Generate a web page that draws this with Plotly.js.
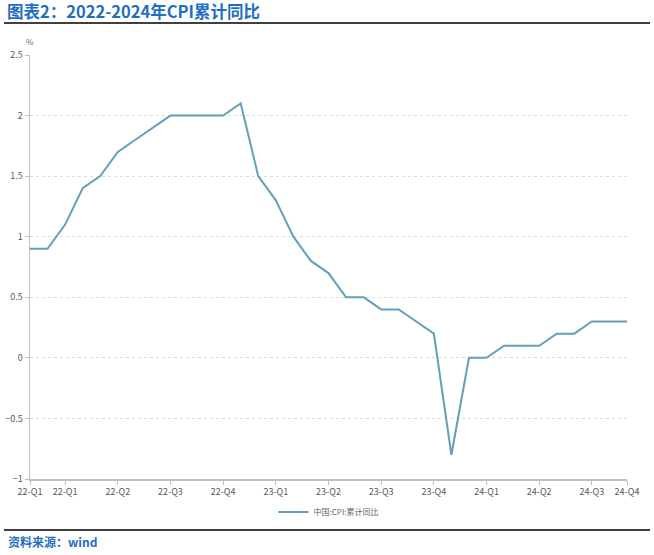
<!DOCTYPE html>
<html>
<head>
<meta charset="utf-8">
<script src="https://cdn.plot.ly/plotly-3.0.1.min.js"></script>
<style>html,body{margin:0;padding:0;background:#fff;}#chart{width:654px;height:555px;}</style>
</head>
<body>
<div id="chart"></div>
<script>
const months = [
  '2022-01','2022-02','2022-03','2022-04','2022-05','2022-06','2022-07','2022-08','2022-09','2022-10','2022-11','2022-12',
  '2023-01','2023-02','2023-03','2023-04','2023-05','2023-06','2023-07','2023-08','2023-09','2023-10','2023-11','2023-12',
  '2024-01','2024-02','2024-03','2024-04','2024-05','2024-06','2024-07','2024-08','2024-09','2024-10','2024-11'
];
const cpiCumulative = [
  0.9,0.9,1.1,1.4,1.5,1.7,1.8,1.9,2.0,2.0,2.0,2.0,
  2.1,1.5,1.3,1.0,0.8,0.7,0.5,0.5,0.4,0.4,0.3,0.2,
  -0.8,0.0,0.0,0.1,0.1,0.1,0.2,0.2,0.3,0.3,0.3
];
const tickMonths = ['2022-01','2022-03','2022-06','2022-09','2022-12','2023-03','2023-06','2023-09','2023-12','2024-03','2024-06','2024-09','2024-11'];
const tickLabels = ['22-Q1','22-Q1','22-Q2','22-Q3','22-Q4','23-Q1','23-Q2','23-Q3','23-Q4','24-Q1','24-Q2','24-Q3','24-Q4'];
const yTicks = [-1,-0.5,0,0.5,1,1.5,2,2.5];
const seriesName = '中国:CPI:累计同比';

const W = 654, H = 555, L = 30, R = 27, T = 55, B = 76;
const pw = W - L - R, ph = H - T - B;
const px = x => (x - L) / pw;
const py = y => (H - B - y) / ph;

const font = 'Microsoft YaHei, "Noto Sans CJK SC", "Open Sans", sans-serif';

const trace = {
  x: months, y: cpiCumulative, type: 'scatter', mode: 'lines', name: seriesName,
  line: {color: '#649fb8', width: 2}
};

const layout = {
  width: W, height: H,
  margin: {l: L, r: R, t: T, b: B},
  paper_bgcolor: '#fff', plot_bgcolor: '#fff',
  font: {family: font, color: '#595959', size: 9},
  title: {text: '<b>图表2：2022-2024年CPI累计同比</b>', xref: 'container', yref: 'container',
    x: 7/W, xanchor: 'left', y: 1 - 12/H, yanchor: 'middle',
    font: {family: '"Noto Sans CJK SC", sans-serif', size: 16.5, color: '#1f6fc1'}},
  showlegend: true,
  legend: {orientation: 'h', x: 0.5, xanchor: 'center', y: py(512), yanchor: 'middle',
    font: {size: 8, color: '#666'}, bgcolor: 'rgba(0,0,0,0)'},
  xaxis: {
    type: 'category', range: [0, months.length - 1],
    tickmode: 'array', tickvals: tickMonths, ticktext: tickLabels,
    showgrid: false, zeroline: false,
    showline: true, linecolor: '#bfbfbf', linewidth: 1.5,
    ticks: 'outside', ticklen: 4, tickcolor: '#bfbfbf',
    tickfont: {size: 9, color: '#595959'}, tickangle: 0
  },
  yaxis: {
    range: [-1, 2.5], tickmode: 'array', tickvals: yTicks,
    showgrid: true, gridcolor: '#dcdcdc', griddash: 'dot', gridwidth: 1,
    zeroline: false, showline: true, linecolor: '#bfbfbf', linewidth: 1.5,
    ticks: 'outside', ticklen: 4, tickcolor: '#bfbfbf',
    tickfont: {size: 9, color: '#595959'}
  },
  annotations: [
    {text: '%', xref: 'paper', yref: 'paper', x: 0, y: py(42), xanchor: 'center', yanchor: 'middle',
      showarrow: false, font: {size: 8, color: '#666'}},
    {text: '<b>资料来源：wind</b>', xref: 'paper', yref: 'paper', x: px(6), y: py(541), xanchor: 'left', yanchor: 'middle',
      showarrow: false, font: {family: '"Noto Sans CJK SC", sans-serif', size: 12, color: '#1f6fc1'}}
  ],
  shapes: [
    {type: 'line', xref: 'paper', yref: 'paper', x0: px(4), x1: px(650), y0: py(23), y1: py(23), line: {color: '#000', width: 1.5}},
    {type: 'line', xref: 'paper', yref: 'paper', x0: px(4), x1: px(650), y0: py(530), y1: py(530), line: {color: '#000', width: 1.5}}
  ]
};

Plotly.newPlot('chart', [trace], layout, {displayModeBar: false, staticPlot: true});
</script>
</body>
</html>
